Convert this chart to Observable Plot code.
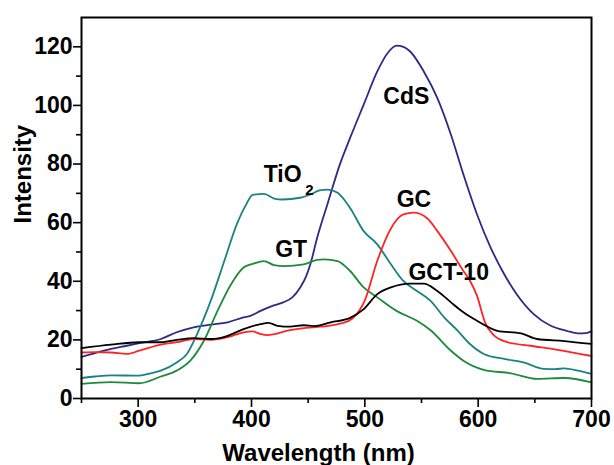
<!DOCTYPE html>
<html>
<head>
<meta charset="utf-8">
<script src="https://cdn.jsdelivr.net/npm/d3@7"></script>
<script src="https://cdn.jsdelivr.net/npm/@observablehq/plot@0.6"></script>
<style>
  html, body { margin: 0; padding: 0; background: #fff; }
  svg { display: block; }
</style>
</head>
<body>
<div id="chart"></div>
<script>
// ---- data ----
const seriesNames = ["CdS", "TiO2", "GT", "GC", "GCT-10"];
const seriesColors = ["#2b2b86", "#1b8282", "#1f8a3c", "#ff2424", "#000000"];

const cdsWl  = [250, 262, 276, 290, 301, 320, 334, 349, 364, 379, 393, 399, 408, 418, 428, 436, 443, 448, 452, 458, 467, 478, 487, 499, 511, 520, 528, 534, 540, 552, 564, 576, 587, 599, 611, 623, 634, 649, 664, 678, 688, 695, 700];
const cdsVal = [14.2, 15.5, 16.9, 18, 18.9, 20.3, 22.6, 24.3, 25.2, 26, 27.7, 28.2, 29.9, 31.5, 32.8, 34.5, 37.9, 41.5, 45.9, 54.9, 66.3, 79.9, 88.9, 100.3, 111.6, 117.8, 120.4, 120, 118.4, 111.6, 102.5, 90, 76.4, 62.8, 51.5, 42.4, 35.6, 28.8, 24.8, 23.1, 22.2, 22.3, 23];

const tioWl  = [250, 262, 276, 299, 310, 320, 334, 343, 352, 364, 376, 387, 395, 401, 411, 420, 427, 443, 452, 460, 467, 476, 487, 499, 511, 523, 534, 546, 558, 570, 582, 593, 605, 623, 640, 658, 668, 676, 688, 700];
const tioVal = [7.0, 7.5, 7.9, 7.8, 8.5, 9.5, 12.3, 15.2, 22, 33.3, 46.9, 59.4, 66, 69.5, 69.8, 68.2, 67.9, 68.5, 69.6, 71, 71.3, 70.2, 65, 57.1, 52.6, 45.8, 40.1, 36.7, 33.3, 27.7, 23.1, 18.5, 15.2, 13.5, 12.3, 10.1, 10, 10.3, 9.5, 8.4];

const gtWl  = [250, 276, 301, 320, 334, 346, 358, 370, 382, 393, 401, 411, 420, 429, 446, 458, 464, 476, 487, 499, 511, 528, 546, 558, 576, 587, 605, 629, 652, 676, 700];
const gtVal = [5.0, 5.6, 5.2, 7.5, 9.5, 12.9, 19.7, 29.9, 39, 44.7, 45.9, 46.9, 45.5, 45.2, 45.8, 47.3, 47.5, 46.9, 43.5, 37.9, 34.5, 29.9, 26.5, 23.3, 16.3, 12.9, 9.8, 8.6, 6.7, 7.0, 5.5];

const gcWl  = [250, 262, 276, 290, 301, 320, 334, 349, 364, 379, 393, 401, 408, 414, 434, 448, 461, 479, 489, 500, 511, 523, 534, 543, 555, 564, 576, 587, 593, 599, 606, 614, 625, 646, 670, 700];
const gcVal = [15.7, 15.8, 15.7, 15.2, 16.3, 18.4, 19.2, 20.3, 20, 20.9, 22.6, 22.9, 22, 21.6, 23.3, 24.1, 24.5, 25.6, 27.3, 33.5, 47, 58, 62.8, 63.4, 61.5, 57.1, 50.3, 43.5, 40, 35, 26, 21.5, 19.3, 18, 16.6, 14.5];

const gctWl  = [250, 276, 301, 320, 334, 349, 364, 379, 393, 408, 415, 423, 434, 446, 455, 470, 487, 499, 511, 523, 540, 552, 564, 576, 587, 599, 617, 638, 652, 676, 700];
const gctVal = [17.2, 18.4, 19.2, 19.2, 20, 20.6, 20.3, 21.4, 23.7, 25.4, 25.8, 24.8, 24.5, 25, 24.7, 26, 27.5, 30.5, 35.6, 37.9, 39.2, 39.2, 36.7, 32.8, 29.4, 26.5, 23.1, 22.2, 20.3, 19.6, 18.6];

const xMajorTicks = [300, 400, 500, 600, 700];
const xMinorTicks = [250, 350, 450, 550, 650];
const yMajorTicks = [0, 20, 40, 60, 80, 100, 120];
const yMinorTicks = [10, 30, 50, 70, 90, 110];

// label texts and anchor positions (data coordinates)
const labelTexts = ["CdS", "GC", "GT", "GCT-10"];
const labelWl    = [536.6, 543.3, 435, 574];
const labelVal   = [103, 68, 50.7, 43];
const tioLabel = {main: "TiO", sub: "2", wl: 410.8, val: 76.4, subWl: 447.5, subVal: 71.2};

// ---- build table ----
const wlArrays = [cdsWl, tioWl, gtWl, gcWl, gctWl];
const valArrays = [cdsVal, tioVal, gtVal, gcVal, gctVal];
const rows = [];
seriesNames.forEach((name, i) => {
  wlArrays[i].forEach((w, j) => rows.push({series: name, wl: w, val: valArrays[i][j]}));
});
const labels = labelTexts.map((t, i) => ({t, wl: labelWl[i], val: labelVal[i]}));

const font = "'Liberation Sans', Arial, Helvetica, sans-serif";

const chart = Plot.plot({
  width: 614,
  height: 465,
  marginLeft: 81,
  marginRight: 23,
  marginTop: 17,
  marginBottom: 67,
  style: {fontFamily: font, fontWeight: "bold", fontSize: "23px", color: "#000", background: "#fff", overflow: "visible"},
  x: {domain: [250, 700]},
  y: {domain: [0, 130]},
  color: {domain: seriesNames, range: seriesColors},
  marks: [
    Plot.line(rows, {x: "wl", y: "val", z: "series", stroke: "series", strokeWidth: 1.8, curve: "monotone-x"}),
    Plot.frame({stroke: "#000", strokeWidth: 2}),
    Plot.axisX({ticks: xMajorTicks, tickSize: 9, tickPadding: 3, strokeWidth: 1.6, fontSize: 23, label: null, tickFormat: d => String(d)}),
    Plot.axisX({ticks: xMinorTicks, tickSize: 5, strokeWidth: 1.6, label: null, tickFormat: () => ""}),
    Plot.axisY({ticks: yMajorTicks, tickSize: 8, tickPadding: 1, strokeWidth: 1.6, fontSize: 23, label: null, tickFormat: d => String(d)}),
    Plot.axisY({ticks: yMinorTicks, tickSize: 5, strokeWidth: 1.6, label: null, tickFormat: () => ""}),
    Plot.text(["Wavelength (nm)"], {frameAnchor: "bottom", dx: -18, dy: 55, fontSize: 24, fontWeight: "bold", lineAnchor: "middle"}),
    Plot.text(["Intensity"], {frameAnchor: "left", rotate: -90, dx: -58, dy: 15.5, fontSize: 24, fontWeight: "bold", lineAnchor: "middle"}),
    Plot.text(labels, {x: "wl", y: "val", text: "t", fontSize: 23, fontWeight: "bold", lineAnchor: "middle", fill: "#000"}),
    Plot.text([tioLabel], {x: "wl", y: "val", text: "main", textAnchor: "start", fontSize: 23, fontWeight: "bold", lineAnchor: "middle", fill: "#000"}),
    Plot.text([tioLabel], {x: "subWl", y: "subVal", text: "sub", textAnchor: "start", fontSize: 15, fontWeight: "bold", lineAnchor: "middle", fill: "#000"})
  ]
});
document.getElementById("chart").appendChild(chart);
</script>
</body>
</html>
